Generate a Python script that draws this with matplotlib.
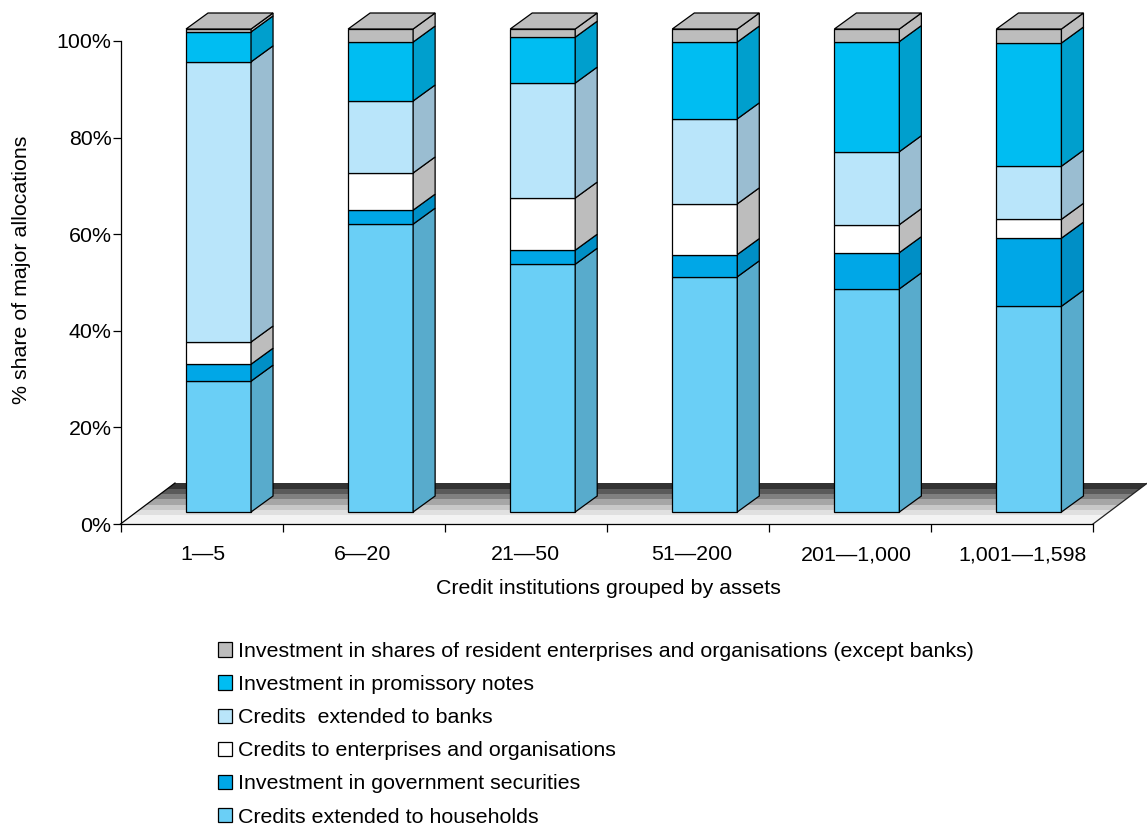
import numpy as np
import matplotlib
matplotlib.use('Agg')
import matplotlib.pyplot as plt
from matplotlib.patches import Patch
###############################################################################
plt.rcParams['font.family'] = ['Liberation Sans', 'DejaVu Sans']
plt.rcParams['font.size'] = 15.4

categories = ['1—5', '6—20', '21—50', '51—200', '201—1,000', '1,001—1,598']
households = [27.1, 59.6, 51.3, 48.7, 46.2, 42.6]
government = [3.5, 2.9, 2.9, 4.6, 7.5, 14.1]
enterprises = [4.6, 7.7, 10.8, 10.5, 5.8, 3.9]
banks = [58.0, 14.9, 23.8, 17.6, 15.1, 11.0]
promissory = [6.2, 12.2, 9.5, 15.9, 22.8, 25.5]
shares = [0.6, 2.7, 1.7, 2.7, 2.6, 2.9]

labels = ['Credits extended to households', 'Investment in government securities',
          'Credits to enterprises and organisations', 'Credits  extended to banks',
          'Investment in promissory notes',
          'Investment in shares of resident enterprises and organisations (except banks)']
series = [households, government, enterprises, banks, promissory, shares]
front_colors = ['#6ACFF6', '#00A7E7', '#FFFFFF', '#B9E5FA', '#00BDF2', '#BDBDBD']
side_colors = ['#58ABCC', '#008FC6', '#BDBDBD', '#9ABDD1', '#009FCD', '#BDBDBD']
floor_grays = ['#F3F3F3', '#E0E0E0', '#C8C8C8', '#A6A6A6', '#808080', '#5A5A5A', '#333333']
floor_edges = [524, 515, 510, 505, 499, 494, 489, 483]
label_px = [203, 363, 525, 692, 856, 1022]   # 눈금 라벨 중심 (픽셀)
###############################################################################
W, H = 1147, 827
fig = plt.figure(figsize=(W / 100, H / 100), dpi=100)
ax = fig.add_axes([120.5 / W, 1 - 524 / H, (1093 - 120.5) / W, (524 - 41) / H])
ax.set_xlim(-0.5, 5.5)
ax.set_ylim(0, 100)

PX_X = 6 / (1093 - 120.5)   # 픽셀 -> 데이터 단위
PX_Y = 100 / (524 - 41)
SHIFT_X, BASE_Y = 17 * PX_X, 12 * PX_Y
BAR_W = 65 * PX_X
DX, DY = 22 * PX_X, 16 * PX_Y

# floor
FLOOR_DX, FLOOR_DY = 54.5 * PX_X, 41 * PX_Y
for k, gray in enumerate(floor_grays):
    y0 = (524 - floor_edges[k]) * PX_Y
    y1 = (524 - floor_edges[k + 1]) * PX_Y
    x0 = -0.5 + FLOOR_DX * y0 / FLOOR_DY
    x1 = -0.5 + FLOOR_DX * y1 / FLOOR_DY
    ax.fill([x0, x0 + 6, x1 + 6, x1], [y0, y0, y1, y1], color=gray, lw=0, clip_on=False, zorder=1)
ax.plot([-0.5, -0.5 + FLOOR_DX], [0, FLOOR_DY], color='k', lw=0.9, clip_on=False, zorder=1.5)
ax.plot([5.5, 5.5 + FLOOR_DX], [0, FLOOR_DY], color='#222222', lw=0.9, clip_on=False, zorder=1.5)

# bars
bottom = np.zeros(len(categories))
xpos = np.arange(len(categories)) + SHIFT_X
for vals, fc, sc in zip(series, front_colors, side_colors):
    vals = np.array(vals)
    ax.bar(xpos, vals, width=BAR_W, bottom=bottom + BASE_Y, color=fc, edgecolor='k',
           linewidth=0.9, clip_on=False, zorder=3)
    for x, b, v in zip(xpos, bottom, vals):
        xr = x + BAR_W / 2
        y0 = b + BASE_Y
        ax.fill([xr, xr + DX, xr + DX, xr], [y0, y0 + DY, y0 + v + DY, y0 + v],
                facecolor=sc, edgecolor='k', linewidth=0.9, clip_on=False, zorder=3)
    bottom = bottom + vals

for x, t in zip(xpos, bottom):
    xl, xr = x - BAR_W / 2, x + BAR_W / 2
    ytop = t + BASE_Y
    ax.fill([xl, xr, xr + DX, xl + DX], [ytop, ytop, ytop + DY, ytop + DY],
            facecolor=front_colors[-1], edgecolor='k', linewidth=0.9, clip_on=False, zorder=3)

# axes
for side in ['top', 'right']:
    ax.spines[side].set_visible(False)
ax.spines['left'].set_linewidth(0.9)
ax.spines['bottom'].set_linewidth(0.9)
ax.spines['left'].set_zorder(2)
ax.spines['bottom'].set_zorder(2)
ax.patch.set_alpha(0)

ax.set_yticks(np.arange(0, 101, 20))
ax.set_yticklabels(['%d%%' % v for v in np.arange(0, 101, 20)])
ax.tick_params(axis='y', length=6, width=0.9, pad=0.5)
ax.set_xticks(np.arange(-0.5, 5.6, 1))
ax.set_xticklabels([])
ax.tick_params(axis='x', which='major', length=6, width=0.9)
ax.set_xticks([-0.5 + (p - 120.5) * PX_X for p in label_px], minor=True)
ax.set_xticklabels(categories, minor=True, va='baseline')
ax.tick_params(axis='x', which='minor', length=0, pad=26)
ax.set_xlabel('Credit institutions grouped by assets')
ax.xaxis.set_label_coords(0.502, -0.114)
ax.set_ylabel('% share of major allocations')
ax.yaxis.set_label_coords(-0.092, 0.526)

# legend, top entry first
handles = [Patch(facecolor=fc, edgecolor='k', linewidth=0.9) for fc in front_colors]
fig.legend(handles[::-1], labels[::-1], loc='upper left', bbox_to_anchor=(218 / W, 1 - 642 / H),
           frameon=False, handlelength=0.65, handleheight=0.65, handletextpad=0.28,
           labelspacing=0.66, borderpad=0, borderaxespad=0)

fig.savefig('out.png', dpi=100)
